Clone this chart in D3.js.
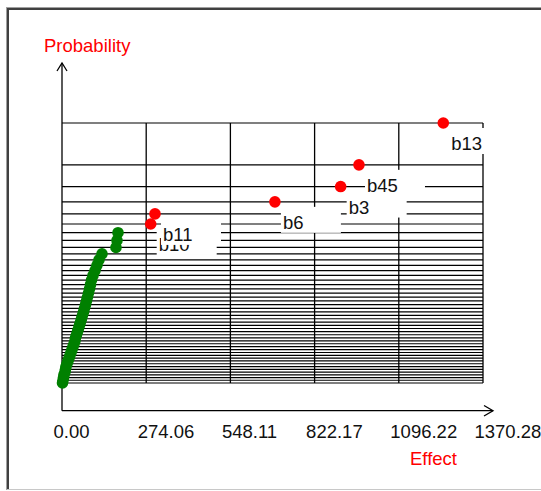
<!DOCTYPE html>
<html>
<head>
<meta charset="utf-8">
<script src="https://cdn.jsdelivr.net/npm/d3@7"></script>
<style>
	body { margin: 0; background: #fff; }
	svg { display: block; font-family: 'Liberation Sans', Arial, sans-serif; }
</style>
</head>
<body>
<svg id="chart"></svg>
<script>
const WIDTH = 541;
const HEIGHT = 491;

// labelled (large) effects, shown in red
const namedLabels = ['b10', 'b11', 'b6', 'b3', 'b45', 'b13'];
const namedEffects = [288.7, 302.7, 693, 907, 966.6, 1241];

// remaining effects, shown in green
const otherEffects = [
	1.6, 3.3, 4.9, 6.5, 9.8, 11.4, 13.0, 16.3, 19.5, 22.8,
	26.0, 29.3, 32.5, 35.8, 39.1, 42.3, 43.9, 47.2, 50.4, 53.7,
	57.0, 60.2, 63.5, 66.7, 70.0, 73.2, 76.5, 79.7, 83.0, 86.2,
	89.5, 92.8, 96.0, 100.9, 107.4, 113.9, 120.4, 130.2, 175.7, 179.0,
	182.3
];

const xTicks = [0, 274.06, 548.11, 822.17, 1096.22, 1370.28];

// normal cdf / inverse, for half-normal plotting positions
const erf = (x) => {
	const s = x < 0 ? -1 : 1;
	x = Math.abs(x);
	const t = 1 / (1 + 0.3275911 * x);
	const y = 1 - (((((1.061405429 * t - 1.453152027) * t) + 1.421413741) * t - 0.284496736) * t + 0.254829592) * t * Math.exp(-x * x);
	return s * y;
};
const pnorm = z => 0.5 * (1 + erf(z / Math.SQRT2));
const qnorm = (p) => {
	let lo = -8, hi = 8;
	for (let k = 0; k < 80; k++) {
		const mid = (lo + hi) / 2;
		if (pnorm(mid) < p) lo = mid; else hi = mid;
	}
	return (lo + hi) / 2;
};

const all = otherEffects.map(v => ({value: v, label: null}))
	.concat(namedEffects.map((v, i) => ({value: v, label: namedLabels[i]})))
	.sort((a, b) => a.value - b.value);
const n = all.length;
all.forEach((d, i) => {
	d.z = qnorm(0.5 + 0.5 * (i + 0.5) / n);
});

const svg = d3.select('#chart')
	.attr('width', WIDTH)
	.attr('height', HEIGHT);

// panel frame
svg.append('line').attr('x1', 7).attr('y1', 7.5).attr('x2', WIDTH).attr('y2', 7.5)
	.attr('stroke', '#a0a0a0').attr('stroke-width', 1);
svg.append('line').attr('x1', 7).attr('y1', 9).attr('x2', WIDTH).attr('y2', 9)
	.attr('stroke', '#404040').attr('stroke-width', 2);
svg.append('line').attr('x1', 6.5).attr('y1', 7).attr('x2', 6.5).attr('y2', 490)
	.attr('stroke', '#a0a0a0').attr('stroke-width', 1);
svg.append('line').attr('x1', 8).attr('y1', 8).attr('x2', 8).attr('y2', 490)
	.attr('stroke', '#404040').attr('stroke-width', 2);
svg.append('line').attr('x1', 7).attr('y1', 489.5).attr('x2', WIDTH).attr('y2', 489.5)
	.attr('stroke', '#c8c8c8').attr('stroke-width', 1);

const x = d3.scaleLinear()
	.domain([0, 1370.28])
	.range([62, 483]);
const y = d3.scaleLinear()
	.domain([all[0].z, all[n - 1].z])
	.range([383, 123]);

const axisY = 410.7;

// horizontal lines, one per effect
svg.append('g')
	.selectAll('line')
	.data(all)
	.enter()
	.append('line')
	.attr('x1', x(0))
	.attr('x2', x(1370.28))
	.attr('y1', d => y(d.z))
	.attr('y2', d => y(d.z))
	.attr('stroke', '#000')
	.attr('stroke-width', 1.2);

// vertical grid
svg.append('g')
	.selectAll('line')
	.data(xTicks.slice(1))
	.enter()
	.append('line')
	.attr('x1', d => x(d))
	.attr('x2', d => x(d))
	.attr('y1', y(all[n - 1].z))
	.attr('y2', y(all[0].z))
	.attr('stroke', '#000')
	.attr('stroke-width', 1.3);

// axes with arrows
const axes = svg.append('g').attr('stroke', '#000').attr('fill', 'none').attr('stroke-width', 1.3);
axes.append('line').attr('x1', x(0)).attr('y1', axisY).attr('x2', 493).attr('y2', axisY);
axes.append('line').attr('x1', x(0)).attr('y1', axisY).attr('x2', x(0)).attr('y2', 63);
axes.append('path').attr('d', `M484,405.5L493,${axisY}L484,416`);
axes.append('path').attr('d', `M${x(0) - 5},71L${x(0)},63L${x(0) + 5},71`);

const xAxis = d3.axisBottom(x)
	.tickValues(xTicks)
	.tickFormat(d3.format('.2f'))
	.tickSize(0)
	.tickPadding(14);

const gx = svg.append('g')
	.attr('transform', `translate(0,${axisY})`)
	.call(xAxis);
gx.select('.domain').remove();
gx.attr('font-family', null).attr('font-size', null);
gx.selectAll('text')
	.attr('text-anchor', 'start')
	.attr('dx', -9)
	.attr('fill', '#111')
	.style('font-size', '18.5px');

svg.append('text')
	.attr('x', 44)
	.attr('y', 52)
	.attr('fill', '#ff0000')
	.style('font-size', '18.5px')
	.text('Probability');

svg.append('text')
	.attr('x', 410)
	.attr('y', 465)
	.attr('fill', '#ff0000')
	.style('font-size', '18.5px')
	.text('Effect');

// labels with opaque boxes
const named = all.filter(d => d.label);
const labels = svg.append('g');
named.forEach((d) => {
	const px = x(d.value);
	const py = y(d.z);
	labels.append('rect')
		.attr('x', px + 6)
		.attr('y', py + 5)
		.attr('width', 60)
		.attr('height', 26)
		.attr('fill', '#fff');
	labels.append('text')
		.attr('x', px + 8)
		.attr('y', py + 27)
		.attr('fill', '#111')
		.style('font-size', '18.5px')
		.text(d.label);
});

// points
svg.append('g')
	.selectAll('circle')
	.data(all)
	.enter()
	.append('circle')
	.attr('cx', d => x(d.value))
	.attr('cy', d => y(d.z))
	.attr('r', 5.8)
	.attr('fill', d => d.label ? '#ff0000' : '#008000');
</script>
</body>
</html>
